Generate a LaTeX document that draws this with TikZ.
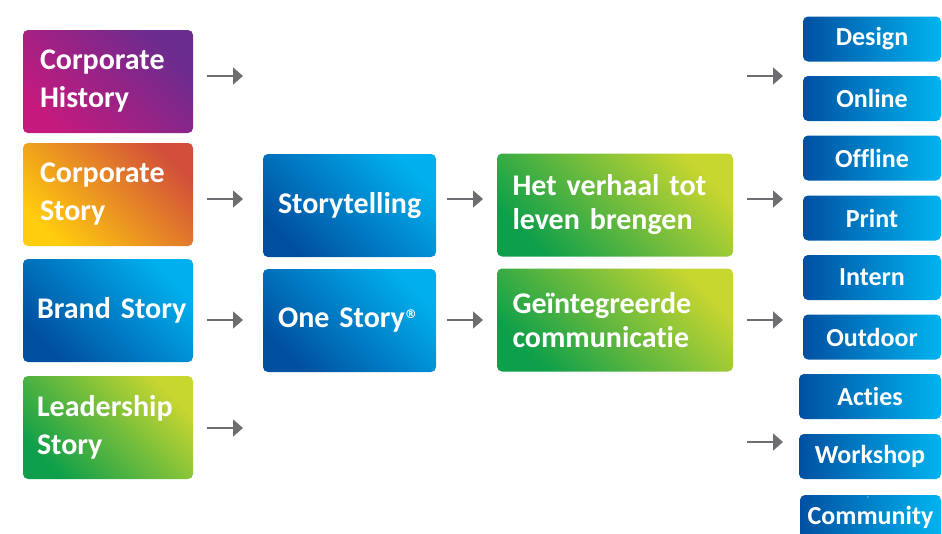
\documentclass[tikz,border=0pt]{standalone}
\usepackage{fontspec}
\setmainfont{Carlito}[Ligatures={NoCommon,NoContextual}]
\newfontfamily\regfont{DejaVu Sans}
\usetikzlibrary{arrows.meta}
\definecolor{purA}{HTML}{C41A7D}
\definecolor{purB}{HTML}{6A2C8F}
\definecolor{oraA}{HTML}{FFCC0E}
\definecolor{oraB}{HTML}{D2503A}
\definecolor{bluA}{HTML}{004FA0}
\definecolor{bluB}{HTML}{00B0EE}
\definecolor{grnA}{HTML}{0E9F4A}
\definecolor{grnB}{HTML}{C8D630}
\definecolor{rbA}{HTML}{0050A2}
\definecolor{rbB}{HTML}{00B4EF}
\definecolor{arrgray}{HTML}{6D6E71}
\begin{document}
\begin{tikzpicture}[x=1pt,y=-1pt,
  box/.style={rounded corners=5pt, text=white, inner sep=0pt},
  grad/.style 2 args={bottom color=#1, top color=#2, middle color=#1!50!#2, shading angle=-45},
  lbox/.style={box, minimum width=170pt, minimum height=103pt, align=left,
    font=\fontsize{30}{38}\selectfont\bfseries},
  mbox/.style={box, minimum height=103pt, align=left,
    font=\fontsize{30}{34}\selectfont\bfseries},
  rbox/.style={box, minimum width=138pt, minimum height=45pt,
    left color=rbA, right color=rbB,
    font=\fontsize{26}{30}\selectfont\bfseries},
  arr/.style={draw=arrgray, line width=1.6pt, -{Triangle[length=10pt,width=17pt]}}]
\useasboundingbox (0,0) rectangle (942,533);

% left column
\node[lbox, grad={purA}{purB}, text width=136pt] (ch) at (108,81.5) {Corporate\\History};
\node[lbox, grad={oraA}{oraB}, text width=136pt] (cs) at (108,194.5) {Corporate\\Story};
\node[lbox, grad={bluA}{bluB}, text width=142pt] (bs) at (108,310.5) {\mbox{Brand Story}};
\node[lbox, grad={grnA}{grnB}, text width=142pt] (ls) at (108,427.5) {Leadership\\Story};

% middle column
\node[mbox, grad={bluA}{bluB}, minimum width=173pt, text width=143pt] (st) at (349.5,205.5) {Storytelling};
\node[mbox, grad={bluA}{bluB}, minimum width=173pt, text width=143pt] (os) at (349.5,320.5) {One Story\raisebox{9pt}{\regfont\fontsize{12}{12}\selectfont ®}};

% green column
\node[mbox, grad={grnA}{grnB}, minimum width=236pt, text width=205pt] (vb) at (615,205) {Het verhaal tot\\leven brengen};
\node[mbox, grad={grnA}{grnB}, minimum width=236pt, text width=205pt] (gc) at (615,320) {Geïntegreerde\\communicatie};

% right column
\node[rbox] (design) at (872,39) {Design};
\node[rbox] (online) at (872,98.5) {Online};
\node[rbox] (offline) at (872,158) {Offline};
\node[rbox] (print) at (872,218) {Print};
\node[rbox] (intern) at (872,277.5) {Intern};
\node[rbox] (outdoor) at (872,337) {Outdoor};
\node[rbox, minimum width=142pt] (acties) at (870,396.5) {Acties};
\node[rbox, minimum width=142pt] (workshop) at (870,456.5) {Workshop};
\node[rbox, minimum width=141pt] (community) at (870.5,517.5) {Community};
\node[text=white!80!gray, inner sep=0pt, font=\fontsize{4}{4}\selectfont] (smalls) at (868,498) {s};

% arrow end points
\foreach \n/\x/\y in {a1s/207/76, a1e/243/76, a2s/207/199, a2e/243/199,
                      a3s/207/320, a3e/243/320, a4s/207/428, a4e/243/428,
                      b1s/447/199, b1e/483/199, b2s/447/320, b2e/483/320,
                      c1s/747/76, c1e/783/76, c2s/747/199, c2e/783/199,
                      c3s/747/320, c3e/783/320, c4s/747/442, c4e/783/442}
  \coordinate (\n) at (\x,\y);

\foreach \a in {a1,a2,a3,a4,b1,b2,c1,c2,c3,c4}
  \draw[arr] (\a s) -- (\a e);
\end{tikzpicture}
\end{document}
